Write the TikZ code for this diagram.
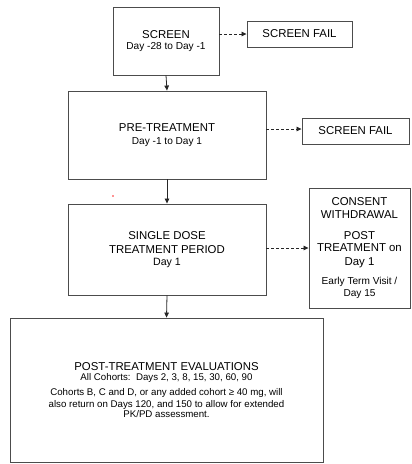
\documentclass[tikz,border=0pt]{standalone}
\usepackage{fontspec}
\setmainfont{Liberation Sans}
\usetikzlibrary{arrows.meta}
% type sizes used in the flow chart
\newcommand\szbig{\fontsize{11.4}{13}\selectfont}
\newcommand\szsmall{\fontsize{10.1}{12}\selectfont}
\newcommand\szpara{\fontsize{9.7}{11}\selectfont}
\begin{document}
\begin{tikzpicture}[x=1pt,y=-1pt,
  box/.style={draw=black!70, line width=0.9pt, inner sep=0pt, align=center, font=\szbig, text=black},
  flow/.style={draw=black!85, line width=0.8pt, -{Triangle[length=5pt,width=4.5pt]}},
  side/.style={flow, dash pattern=on 3pt off 2pt}]
\useasboundingbox (0,0) rectangle (412,464);

% main study periods
\node[box, minimum width=106pt, minimum height=68pt] (screen) at (166,41)
  {SCREEN\\[-1.7pt]{\szsmall Day -28 to Day -1}};
\node[box, minimum width=198pt, minimum height=88pt] (pre) at (167,135)
  {PRE-TREATMENT\\[0.3pt]{\szsmall Day -1 to Day 1}};
\node[box, minimum width=198pt, minimum height=91pt] (dose) at (167,249.5)
  {SINGLE DOSE\\[1.3pt]TREATMENT PERIOD\\[-1pt]{\fontsize{10.6}{12}\selectfont Day 1}};
\node[box, minimum width=313pt, minimum height=144pt] (post) at (166.5,390)
  {POST-TREATMENT EVALUATIONS\\[-3pt]
   {\szpara All Cohorts:\ \ Days 2, 3, 8, 15, 30, 60, 90}\\[2.3pt]
   {\szpara Cohorts B, C and D, or any added cohort ≥ 40 mg, will}\\[-1.3pt]
   {\szpara also return on Days 120, and 150 to allow for extended}\\[-2.7pt]
   {\szpara PK/PD assessment.}};

% exits from the study
\node[box, minimum width=105pt, minimum height=26pt] (fail1) at (299.5,34) {SCREEN FAIL};
\node[box, minimum width=107pt, minimum height=26pt] (fail2) at (355.5,131) {SCREEN FAIL};
\node[box, minimum width=101pt, minimum height=120pt] (consent) at (359.5,248)
  {CONSENT\\[-0.7pt]WITHDRAWAL\\[8pt]POST\\[-0.7pt]TREATMENT on\\[0.7pt]Day 1\\[6pt]
   {\szsmall Early Term Visit /}\\[-1pt]{\szsmall Day 15}};

% flow between periods
\draw[flow] (screen.south) -- (pre.north);
\draw[flow] (pre.south) -- (dose.north);
\draw[flow] (dose.south) -- (post.north);

% dashed exits
\draw[side] (screen.east |- fail1.west) -- (fail1.west);
\draw[side] (pre.east |- 0,129) -- (fail2.west |- 0,129);
\draw[side] (dose.east |- consent.west) -- (consent.west);

% stray red mark
\fill[red!85] (113,196) circle (0.8);
\end{tikzpicture}
\end{document}
